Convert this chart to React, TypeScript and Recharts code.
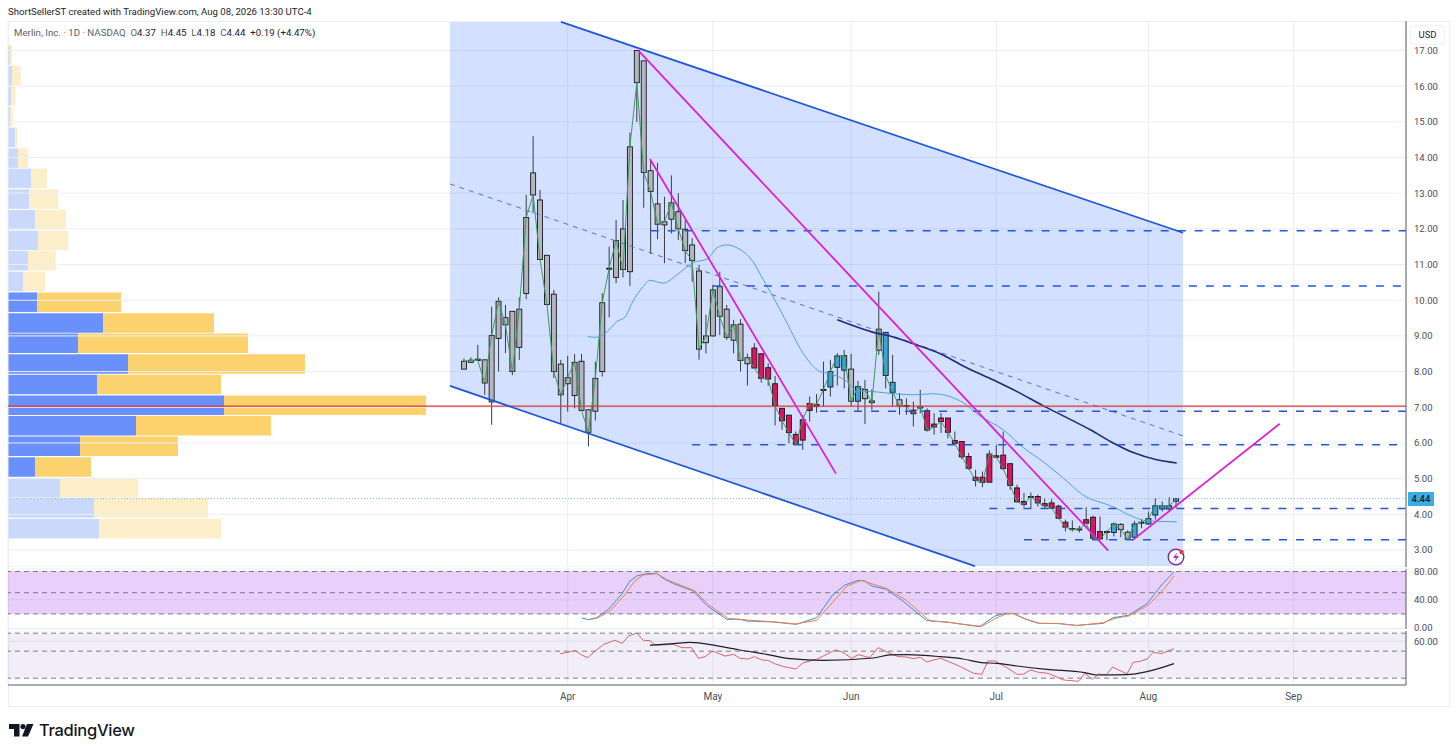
import React from 'react';
import { ComposedChart, BarChart, Bar, Line, Area, Cell, XAxis, YAxis, CartesianGrid, ReferenceLine, ReferenceArea } from 'recharts';

const opens = [8.07,8.26,8.35,8.33,7.15,8.93,9.51,9.69,8.68,10.19,13.57,12.81,11.26,10.17,8.21,7.66,7.33,8.29,6.93,6.89,8.0,10.87,10.64,12.0,10.8,17.0,16.71,13.63,12.7,12.11,12.27,12.48,11.99,11.55,10.82,8.81,9.0,10.38,9.75,8.88,9.33,8.22,8.66,8.5,8.11,7.66,6.97,6.78,6.24,6.08,6.91,7.02,7.48,7.57,8.12,8.04,8.07,7.17,7.24,7.18,8.6,9.1,7.7,7.21,7.05,6.92,6.98,6.91,6.53,6.7,6.7,6.07,6.04,5.62,5.04,5.04,4.9,5.64,5.66,5.42,4.74,4.36,4.49,4.5,4.3,4.32,4.23,3.78,3.6,3.58,3.85,3.92,3.52,3.51,3.49,3.72,3.5,3.36,3.77,3.73,3.98,4.15,4.15,4.37];
const closes = [8.29,8.32,8.31,7.68,9.01,9.97,9.31,8.0,9.75,12.32,12.95,11.14,9.88,8.0,7.35,7.83,8.26,6.91,6.30,7.81,9.93,10.9,11.67,10.86,14.3,16.1,13.58,13.05,12.13,12.2,12.73,12.0,11.39,11.11,8.63,9.0,10.29,9.55,8.96,9.31,8.31,8.39,8.1,7.81,7.79,7.05,6.62,6.29,5.96,6.65,7.11,7.08,7.5,8.0,8.44,8.45,7.17,7.58,7.5,7.13,9.19,7.89,7.42,7.04,7.02,6.82,7.02,6.36,6.45,6.6,6.3,5.99,5.61,5.29,4.95,4.89,5.69,5.6,5.28,4.81,4.35,4.28,4.5,4.32,4.24,4.17,3.89,3.64,3.57,3.59,3.75,3.33,3.31,3.52,3.73,3.57,3.3,3.73,3.78,3.88,4.24,4.24,4.24,4.44];
const highs = [8.37,8.4,8.75,8.33,9.82,10.08,9.87,9.69,10.08,12.95,14.6,13.09,11.26,10.29,8.33,8.44,8.49,8.49,6.93,8.28,10.2,11.5,12.25,12.81,14.7,17.0,16.71,13.9,13.85,12.9,13.5,13.0,12.25,11.74,10.99,9.59,10.43,10.8,9.87,9.45,9.47,8.5,8.8,8.5,8.23,7.88,6.97,6.78,6.32,6.79,7.3,7.37,8.28,8.33,8.52,8.61,8.5,7.74,7.77,7.5,10.24,9.1,8.47,7.4,7.25,7.16,7.49,6.97,6.83,6.84,6.7,6.32,6.04,5.72,5.25,5.2,5.79,5.95,6.32,5.42,4.83,4.6,4.61,4.55,4.44,4.45,4.27,3.85,3.83,3.68,4.2,3.96,3.94,3.55,3.77,3.75,3.55,3.82,3.87,4.08,4.45,4.36,4.48,4.45];
const lows = [8.07,8.24,8.3,7.35,6.51,8.0,8.52,7.9,8.33,10.03,12.44,11.14,9.88,7.82,6.55,6.88,6.97,6.91,5.9,6.63,7.86,9.52,10.48,10.64,10.4,15.0,12.59,11.3,11.71,11.04,11.87,11.69,11.04,10.52,8.33,8.51,8.98,9.03,8.89,8.51,8.0,7.61,8.1,7.69,7.6,6.49,6.37,5.99,5.94,5.81,6.6,6.85,7.02,7.3,7.61,7.53,7.02,6.88,6.53,6.93,8.47,7.53,7.02,6.79,6.79,6.46,6.83,6.32,6.23,6.28,6.13,5.95,5.55,5.25,4.78,4.76,4.9,5.58,5.23,4.69,4.33,4.2,4.17,4.22,4.17,4.15,3.87,3.52,3.52,3.49,3.74,3.31,3.29,3.27,3.38,3.36,3.29,3.34,3.61,3.71,3.85,4.08,4.08,4.18];
const tones = 'gggggggggggggggggggggggggggggggggggggggggg' + 'rrrrrrrrrr' + 'gbbbgbgggbbggrg' + 'rrrrrrrrrrrrrrrgrrrrrrgrrr' + 'g' + 'bggbgbbbbb';

const smaX = [17.9,19.2,20.7,22.1,23.3,24.4,25.9,26.9,28.8,30.8,33.1,35.2,36.6,38.0,39.5,41.8,43.3,44.7,46.7,49.0,51.5,52.9,55.4,56.8,59.2,62.1,65,67.8,70.3,72.2,74.6,78,80.9,83.8,86.6,89.5,93.9,96.8,98.8,103.1];
const smaY = [8.98,8.96,9.12,9.40,9.53,9.96,10.38,10.56,10.48,10.71,11.05,11.16,11.47,11.55,11.47,11.08,10.57,10.10,9.37,8.53,8.0,7.94,7.72,7.46,7.44,7.38,7.35,7.38,7.30,7.13,6.76,6.37,5.87,5.47,5.03,4.55,4.21,3.93,3.82,3.79];
const longMaX = [54.0,59.2,62.1,65,68.9,72.5,76.5,80,83.8,87.2,90.6,93.9,96.8,100.2,103.1];
const longMaY = [9.45,9.10,8.97,8.78,8.50,8.13,7.77,7.44,7.04,6.71,6.37,6.0,5.73,5.53,5.44];

const channelX = [-2.03, 14.03, 73.9, 104];
const channelLow = [7.6, 6.54, 2.55, 2.55];
const channelHigh = [17.8, 17.8, 13.86, 11.89];
const channelUpper = [[14.03, 17.8], [104, 11.89]];
const channelLower = [[-2.03, 7.6], [73.9, 2.55]];
const channelMid = [[-2.03, 13.26], [104, 6.2]];
const trendA = [[25.2, 17.0], [93.2, 2.98]];
const trendB = [[26.9, 13.96], [53.8, 5.14]];
const trendC = [[96.8, 3.29], [118, 6.54]];
const levelRows: number[][] = [[27, 11.95], [36, 10.4], [51.5, 6.89], [33, 5.95], [76, 4.16], [81, 3.29]];
const lastPrice = 4.44;
const redLevel = 7.03;

const profilePrices = [16.92,16.34,15.77,15.19,14.61,14.03,13.46,12.88,12.3,11.72,11.15,10.57,9.99,9.41,8.84,8.26,7.68,7.1,6.53,5.95,5.37,4.79,4.22,3.64];
const profileUp = [2,4,3,2,7.3,10,23,21.3,27,30,20,15,29,95,70,120,89,216,128,72,27,52,86,91];
const profileDown = [2,8.7,4.7,2.7,2.4,10,16,28.7,31,30,27.7,22,84,111,170,177,124,202,135,98,56,78,114,122];
const strongFrom = 12, strongTo = 20;

const stochX = [17.0,18.0,19.2,20.9,22.8,24.0,25.0,26.4,27.9,28.8,30.3,33.2,35.1,38.0,39.9,40.9,44.7,48.1,51.0,53.4,55.1,57.0,58.0,59.0,61.1,63.5,65.5,66.9,68.9,69.8,72.2,74.6,76.8,78.3,79.5,80.9,83.1,86.0,88.6,92.5,93.9,96.1,98.8,100.9,102.7];
const stochK = [14.2,11.8,14.7,26.5,47.7,66.6,73.7,77.0,77.4,70.4,62.8,52.4,32.1,12.3,12.3,9.9,8.5,5.2,14.7,47.7,60.9,67.5,66.6,59.5,54.8,38.3,21.7,10.9,9.0,8.5,5.2,1.9,17.0,20.8,20.3,13.7,6.6,6.2,3.8,6.6,14.7,18.0,34.5,60.9,79.3];
const stochDX = [18.2,19.2,21.1,23.0,24.7,25.9,27.9,29.3,30.8,33.4,35.3,38.2,39.9,41.4,44.7,47.9,51.0,53.7,55.4,57.5,59.2,61.1,64.0,66.0,67.4,68.9,69.8,72.2,74.9,77.1,78.5,79.5,81.4,83.3,86.0,88.6,92.5,94.2,96.1,99.0,101.2,102.7];
const stochD = [12.3,13.7,24.1,43.9,66.6,75.1,77.0,68.9,62.8,52.4,33.5,13.7,12.3,10.9,9.0,5.7,10.9,40.6,59.5,67.5,61.9,56.2,39.2,21.7,9.9,9.0,8.5,5.2,2.4,14.7,20.3,20.3,12.3,6.6,6.6,3.3,7.6,13.7,17.0,32.6,54.8,73.7];

const rsiX = [13.9,15.1,16.0,17.0,17.9,19.0,20.2,21.8,22.9,23.8,25.0,25.9,26.9,27.6,28.8,30.3,31.5,32.9,33.9,34.9,35.9,37.8,39.0,39.9,41.1,42.0,43.1,44.0,45.0,46.2,48.0,49.1,51.0,53.7,54.6,56.1,57.0,58.7,59.9,61.6,62.8,64.0,65.0,66.0,66.9,68.9,70.1,71.8,73.7,74.9,75.8,76.8,78.3,80.0,80.9,81.9,83.1,84.5,86.7,88.9,89.8,90.9,91.8,92.9,93.8,95.9,96.8,97.8,98.8,99.7,100.9,102.7];
const rsiV = [46.2,47.7,50.0,44.8,41.8,49.2,56.6,61.1,57.7,65.9,69.2,61.1,60.7,55.9,55.9,56.6,52.9,52.9,41.1,42.9,49.2,43.6,45.5,41.1,40.3,42.9,39.2,38.8,34.8,31.8,29.2,36.2,39.9,50.3,48.5,41.1,45.1,41.8,52.9,46.6,42.9,42.5,40.7,42.2,37.0,41.1,37.4,31.8,24.4,23.3,38.1,38.1,31.8,23.3,23.3,28.1,25.5,24.4,17.0,15.5,24.4,17.7,23.7,22.5,31.4,23.7,36.6,37.7,40.3,47.7,46.2,51.8];
const rsiMaX = [26.9,30.3,32.7,36.5,39.9,43.8,47.2,52.0,59.2,61.6,64.0,68.9,72.2,74.9,77.1,80.0,84.3,89.8,91.5,95.9,98.8,102.7];
const rsiMaV = [55.5,57.4,58.8,55.1,50.3,45.5,40.7,38.8,41.4,44.8,45.1,42.9,40.3,36.2,35.5,32.5,28.8,25.1,22.5,22.9,26.2,35.1];

const monthTicks = [15, 36, 56, 77, 99, 120];
const monthLabels = ['Apr', 'May', 'Jun', 'Jul', 'Aug', 'Sep'];
const priceTicks = [3,4,5,6,7,8,9,10,11,12,13,14,15,16,17];
const stochTicks = [0, 40, 80];
const stochBands = [80, 50, 20];
const rsiTicks = [60];
const rsiBands = [69, 49, 19];

const candles = opens.map((o, i) => ({ x: i, open: o, close: closes[i], high: highs[i], low: lows[i], tone: tones[i] }));
const pairs = (xs: number[], ys: number[]) => xs.map((x, i) => ({ x, y: ys[i] }));
const channel = channelX.map((x, i) => ({ x, band: [channelLow[i], channelHigh[i]] }));
const profile = profilePrices.map((p, i) => ({ price: p, up: profileUp[i], down: profileDown[i], strong: i >= strongFrom && i <= strongTo }));

const X_DOMAIN: [number, number] = [-65.96, 136.26];
const FONT = 'Roboto, Arial, sans-serif';
const GRID = '#e9eef3';
const AXIS = '#5d606b';
const TICK = { fontSize: 9.5, fill: '#4a4d57', fontFamily: FONT };
const MARGIN = { top: 0, right: 6, bottom: 0, left: 8 };
const BODY_WIDTH = 5;

const CandleShape = (props: any) => {
  const { x, y, width, height, payload } = props;
  const { open, close, high, low, tone } = payload;
  const span = Math.max(high - low, 0.0001);
  const py = (v: number) => y + ((high - v) / span) * height;
  const top = py(Math.max(open, close));
  const bot = py(Math.min(open, close));
  const cx = x + width / 2;
  const fill = tone === 'r' ? '#dc1360' : tone === 'b' ? '#38a6db' : '#b3b6bc';
  return (
    <g>
      <line x1={cx} x2={cx} y1={y} y2={y + height} stroke="#3a3d44" strokeWidth={1} />
      <rect x={cx - BODY_WIDTH / 2} y={top} width={BODY_WIDTH} height={Math.max(bot - top, 1)} fill={fill} stroke="#16181d" strokeWidth={0.9} />
    </g>
  );
};

const seg = (s: number[][]): any => [{ x: s[0][0], y: s[0][1] }, { x: s[1][0], y: s[1][1] }];

export default function App() {
  return (
    <div style={{ position: 'absolute', left: 0, top: 0, width: 1456, height: 755, background: '#fff', fontFamily: FONT, overflow: 'hidden' }}>
      <div style={{ position: 'absolute', left: 8, top: 6, fontSize: 9.6, color: '#1e222d', whiteSpace: 'nowrap' }}>
        ShortSellerST created with TradingView.com, Aug 08, 2026 13:30 UTC-4
      </div>
      <div style={{ position: 'absolute', left: 8, top: 21, width: 1442, height: 686, border: '1px solid #eceff2', boxSizing: 'border-box' }} />

      {/* volume profile */}
      <div style={{ position: 'absolute', left: 0, top: 23 }}>
        <BarChart width={1456} height={546} layout="vertical" data={profile} margin={{ top: 0, right: 50, bottom: 0, left: 8 }} barGap={0}>
          <XAxis type="number" domain={[0, 1398]} hide />
          <YAxis type="number" dataKey="price" domain={[2.524, 17.826]} reversed hide />
          <Bar dataKey="up" stackId="vp" barSize={19.5} isAnimationActive={false}>
            {profile.map((r, i) => <Cell key={i} fill={r.strong ? '#6a90fb' : '#c9d8fb'} />)}
          </Bar>
          <Bar dataKey="down" stackId="vp" barSize={19.5} isAnimationActive={false}>
            {profile.map((r, i) => <Cell key={i} fill={r.strong ? '#fcd26f' : '#fdeeca'} />)}
          </Bar>
        </BarChart>
      </div>

      {/* price pane */}
      <div style={{ position: 'absolute', left: 0, top: 21 }}>
        <ComposedChart width={1456} height={546} data={candles} margin={MARGIN}>
          <CartesianGrid stroke={GRID} strokeWidth={1} />
          <XAxis type="number" dataKey="x" domain={X_DOMAIN} ticks={monthTicks} hide allowDataOverflow />
          <YAxis orientation="right" width={44} type="number" domain={[2.524, 17.826]} ticks={priceTicks} interval={0} tickLine={false}
            axisLine={{ stroke: AXIS }} tick={TICK} tickFormatter={(v: number) => v.toFixed(2)} allowDataOverflow />
          <Area data={channel} dataKey="band" type="linear" stroke="none" fill="#2962ff" fillOpacity={0.2} dot={false} activeDot={false} isAnimationActive={false} />
          <ReferenceLine segment={seg(channelMid)} stroke="#5470e0" strokeWidth={1} strokeDasharray="5 5" />
          <Line data={pairs(smaX, smaY)} dataKey="y" type="monotone" stroke="#4fa3dc" strokeWidth={1} dot={false} activeDot={false} isAnimationActive={false} />
          <Line dataKey="close" type="linear" stroke="#3f9a5e" strokeWidth={1} dot={false} activeDot={false} isAnimationActive={false} />
          <Bar dataKey={(d: any) => [d.low, d.high]} barSize={5} shape={CandleShape} isAnimationActive={false} />
          <Line data={pairs(longMaX, longMaY)} dataKey="y" type="monotone" stroke="#1f2a78" strokeWidth={1.6} dot={false} activeDot={false} isAnimationActive={false} />
          {levelRows.map((l, i) => (
            <ReferenceLine key={i} segment={[{ x: l[0], y: l[1] }, { x: X_DOMAIN[1], y: l[1] }]} stroke="#2256e0" strokeWidth={1.5} strokeDasharray="8 9" />
          ))}
          <ReferenceLine y={lastPrice} stroke="#7cb6d8" strokeWidth={1} strokeDasharray="1 2" />
          <ReferenceLine y={redLevel} stroke="#e0392f" strokeWidth={1.2} />
          <ReferenceLine segment={seg(channelUpper)} stroke="#1f55d8" strokeWidth={1.7} />
          <ReferenceLine segment={seg(channelLower)} stroke="#1f55d8" strokeWidth={1.7} />
          <ReferenceLine segment={seg(trendA)} stroke="#e01fd0" strokeWidth={1.8} />
          <ReferenceLine segment={seg(trendB)} stroke="#e01fd0" strokeWidth={1.8} />
          <ReferenceLine segment={seg(trendC)} stroke="#e01fd0" strokeWidth={1.8} />
        </ComposedChart>
      </div>

      {/* stochastic pane */}
      <div style={{ position: 'absolute', left: 0, top: 559 }}>
        <ComposedChart width={1456} height={78} margin={{ ...MARGIN, top: 10, bottom: 8 }}>
          <CartesianGrid stroke={GRID} />
          <XAxis type="number" dataKey="x" domain={X_DOMAIN} ticks={monthTicks} hide allowDataOverflow />
          <YAxis orientation="right" width={44} type="number" domain={[-1.4, 83.6]} ticks={stochTicks} interval={0} tickLine={false}
            axisLine={{ stroke: AXIS }} tick={TICK} tickFormatter={(v: number) => v.toFixed(2)} allowDataOverflow />
          <ReferenceArea y1={stochBands[2]} y2={stochBands[0]} fill="#9b27e8" fillOpacity={0.22} stroke="none" />
          {stochBands.map((b) => <ReferenceLine key={b} y={b} stroke="#787b86" strokeDasharray="5 4" strokeWidth={1} />)}
          <Line data={pairs(stochX, stochK)} dataKey="y" type="linear" stroke="#3b8fe3" strokeWidth={1} dot={false} activeDot={false} isAnimationActive={false} />
          <Line data={pairs(stochDX, stochD)} dataKey="y" type="linear" stroke="#f0804a" strokeWidth={1} dot={false} activeDot={false} isAnimationActive={false} />
        </ComposedChart>
      </div>

      {/* rsi pane with the time axis */}
      <div style={{ position: 'absolute', left: 0, top: 631 }}>
        <ComposedChart width={1456} height={76} margin={MARGIN}>
          <CartesianGrid stroke={GRID} />
          <XAxis type="number" dataKey="x" domain={X_DOMAIN} ticks={monthTicks} height={22} interval={0} tickLine={false}
            axisLine={{ stroke: AXIS }} tick={{ ...TICK, fontSize: 10 }} tickFormatter={(v: number) => monthLabels[monthTicks.indexOf(v)]} allowDataOverflow />
          <YAxis orientation="right" width={44} type="number" domain={[11.4, 71.4]} ticks={rsiTicks} interval={0} tickLine={false}
            axisLine={{ stroke: AXIS }} tick={TICK} tickFormatter={(v: number) => v.toFixed(2)} allowDataOverflow />
          <ReferenceArea y1={rsiBands[2]} y2={rsiBands[0]} fill="#7e57c2" fillOpacity={0.1} stroke="none" />
          {rsiBands.map((b) => <ReferenceLine key={b} y={b} stroke="#787b86" strokeDasharray="5 4" strokeWidth={1} />)}
          <Line data={pairs(rsiX, rsiV)} dataKey="y" type="linear" stroke="#d9646f" strokeWidth={1} dot={false} activeDot={false} isAnimationActive={false} />
          <Line data={pairs(rsiMaX, rsiMaV)} dataKey="y" type="monotone" stroke="#1e1e24" strokeWidth={1.2} dot={false} activeDot={false} isAnimationActive={false} />
        </ComposedChart>
      </div>

      <div style={{ position: 'absolute', left: 14, top: 27, fontSize: 9.7, color: '#5d606b', whiteSpace: 'nowrap' }}>
        Merlin, Inc. · 1D · NASDAQ&nbsp; O<span style={{ color: '#1e222d' }}>4.37</span>&nbsp; H<span style={{ color: '#1e222d' }}>4.45</span>&nbsp; L<span style={{ color: '#1e222d' }}>4.18</span>&nbsp; C<span style={{ color: '#1e222d' }}>4.44</span>&nbsp; <span style={{ color: '#1e222d' }}>+0.19 (+4.47%)</span>
      </div>

      <div style={{ position: 'absolute', left: 1410, top: 25, width: 35, height: 20, background: '#fff', border: '1px solid #f0f2f5', borderRadius: 3, boxSizing: 'border-box', textAlign: 'center', fontSize: 9.5, lineHeight: '18px', color: '#1e222d' }}>USD</div>
      <div style={{ position: 'absolute', left: 1408, top: 492, width: 26, height: 14, background: '#3aaee2', textAlign: 'center', fontSize: 9.5, lineHeight: '14px', color: '#13202c', fontWeight: 500 }}>4.44</div>

      <svg style={{ position: 'absolute', left: 1166, top: 547 }} width="22" height="22" viewBox="0 0 22 22">
        <circle cx="10" cy="10" r="7.8" fill="#fff" stroke="#7b2a9c" strokeWidth="1.4" />
        <path d="M11.5 5 L7 11 H10 L8.5 15 L13 9 H10 Z" fill="#9c3bb8" />
        <circle cx="15.5" cy="5" r="2.2" fill="#f0392f" />
      </svg>

      <svg style={{ position: 'absolute', left: 9, top: 724 }} width="25" height="13" viewBox="0 0 25 13">
        <path d="M0 0 H10.5 V12.5 H5 V5 H0 Z" fill="#131722" />
        <circle cx="14" cy="2.6" r="2.6" fill="#131722" />
        <path d="M18 0 H24.5 L19 12.5 H13 Z" fill="#131722" />
      </svg>
      <div style={{ position: 'absolute', left: 39, top: 720, fontSize: 16.5, fontWeight: 500, color: '#131722', whiteSpace: 'nowrap', fontFamily: 'Inter, Roboto, sans-serif', letterSpacing: -0.3 }}>TradingView</div>
    </div>
  );
}
